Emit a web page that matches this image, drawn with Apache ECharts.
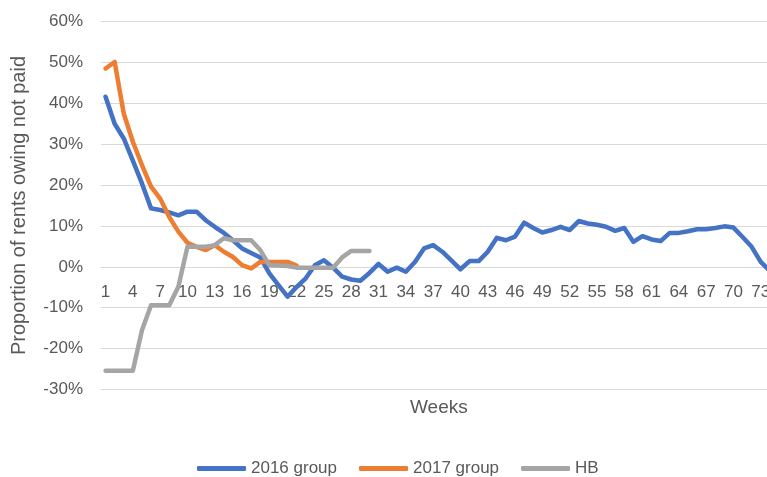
<!DOCTYPE html>
<html>
<head>
<meta charset="utf-8">
<script src="https://cdn.jsdelivr.net/npm/echarts@6/dist/echarts.min.js"></script>
<style>
  html, body { margin: 0; padding: 0; background: #fff; }
  #chart { width: 767px; height: 477px; }
</style>
</head>
<body>
<div id="chart"></div>
<script>
var weeks = [];
for (var w = 1; w <= 74; w++) weeks.push(String(w));

var group2016 = [41.6, 35, 31.4, 26, 20.4, 14.3, 13.9, 13.3, 12.6, 13.5,
    13.5, 11.4, 9.8, 8.3, 6.5, 4.5, 3.4, 2.3, -1.6, -4.5,
    -7.3, -4.9, -2.8, 0.4, 1.6, -0.2, -2.4, -3.1, -3.4, -1.5,
    0.7, -1.2, -0.2, -1.2, 1.2, 4.5, 5.3, 3.7, 1.6, -0.6,
    1.4, 1.4, 3.7, 7.1, 6.5, 7.4, 10.8, 9.5, 8.4, 9,
    9.8, 9, 11.2, 10.6, 10.3, 9.8, 8.8, 9.5, 6.1, 7.5,
    6.7, 6.3, 8.3, 8.3, 8.7, 9.2, 9.2, 9.5, 9.9, 9.6,
    7.3, 4.9, 1.2, -1];
var group2017 = [48.5, 50.1, 37.5, 30.6, 24.9, 19.6, 16.7, 12.2, 8.6, 5.9,
    4.9, 4.1, 5.3, 3.7, 2.4, 0.4, -0.4, 1.2, 1.2, 1.2,
    1.2, 0.3];
var hb = [-25.4, -25.4, -25.4, -25.4, -15.5, -9.4, -9.4, -9.4, -4.9, 4.9,
    4.9, 4.9, 5.3, 7, 6.5, 6.5, 6.5, 4.1, 0.4, 0.3,
    0.2, -0.2, -0.2, -0.2, -0.2, -0.2, 2.3, 3.9, 3.9, 3.9];

var textColor = '#595959';
var font = 'Liberation Sans';

function lineSeries(name, data, color) {
    return {
        name: name,
        type: 'line',
        data: data,
        showSymbol: false,
        symbol: 'none',
        lineStyle: { color: color, width: 4.5, cap: 'round', join: 'round' },
        itemStyle: { color: color }
    };
}

// grid is 368px tall for 90 points -> zero line sits 30/90 of it above the bottom
var gridHeight = 368;
var zeroOffset = -gridHeight * 30 / 90;

var option = {
    animation: false,
    backgroundColor: '#fff',
    textStyle: { fontFamily: font },
    grid: { left: 101, top: 21.5, height: gridHeight, width: 673.4, outerBoundsMode: 'none' },
    legend: {
        left: 192,
        top: 455,
        icon: 'roundRect',
        itemWidth: 49,
        itemHeight: 5,
        itemGap: 22,
        textStyle: { color: textColor, fontSize: 17, fontFamily: font },
        data: ['2016 group', '2017 group', 'HB']
    },
    graphic: [{
        type: 'text',
        left: 410,
        top: 398,
        style: { text: 'Weeks', fill: textColor, fontSize: 19, fontFamily: font }
    }],
    xAxis: {
        type: 'category',
        data: weeks,
        boundaryGap: true,
        offset: zeroOffset,
        axisLine: { onZero: false, lineStyle: { color: '#D9D9D9', width: 1 } },
        axisTick: { show: false },
        axisLabel: { interval: 2, color: textColor, fontSize: 17, margin: 17, fontFamily: font },
        splitLine: { show: false }
    },
    yAxis: {
        type: 'value',
        min: -30,
        max: 60,
        interval: 10,
        name: 'Proportion of rents owing not paid',
        nameLocation: 'middle',
        nameGap: 72,
        nameTextStyle: { color: textColor, fontSize: 20, fontFamily: font },
        axisLine: { show: false },
        axisTick: { show: false },
        axisLabel: { formatter: '{value}%', color: textColor, fontSize: 17, margin: 18, fontFamily: font },
        splitLine: { lineStyle: { color: '#D9D9D9', width: 1 } }
    },
    series: [
        lineSeries('2016 group', group2016, '#4472C4'),
        lineSeries('2017 group', group2017, '#ED7D31'),
        lineSeries('HB', hb, '#A5A5A5')
    ]
};

echarts.init(document.getElementById('chart')).setOption(option);
</script>
</body>
</html>
